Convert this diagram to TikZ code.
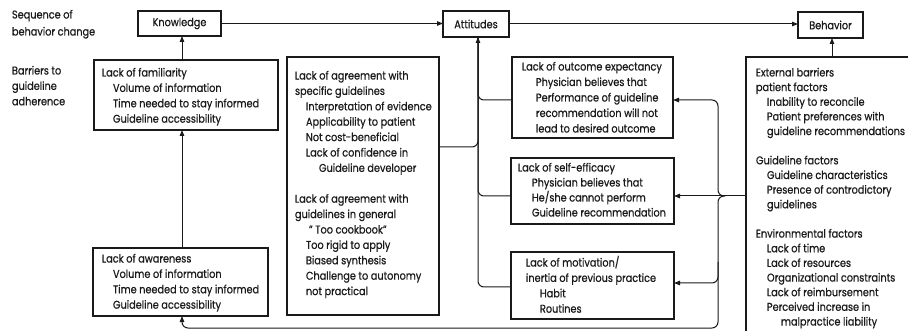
\documentclass[tikz,border=0pt]{standalone}
\usepackage{fontspec}
\setmainfont{Poppins}[FakeStretch=0.86,FakeBold=0.6]
\usetikzlibrary{arrows.meta}
\definecolor{ink}{HTML}{1A1A1A}

\newcommand{\ind}{\hspace*{11pt}}

% multi-line texts are placed by the baseline of their last line
\begin{document}
\begin{tikzpicture}[x=1pt,y=-1pt,
  every node/.style={inner sep=0pt, outer sep=0pt},
  frame/.style={draw=ink, line width=1.1pt, anchor=north west},
  stage/.style={frame, font=\fontsize{11.3}{13}\selectfont, text=ink},
  txt/.style={anchor=base west, align=left, text=ink,
              font=\fontsize{11.3}{15.4}\selectfont},
  link/.style={draw=ink, line width=1pt, rounded corners=6pt},
  arr/.style={link, -{Triangle[length=6pt,width=4.5pt]}},
]
\useasboundingbox (0,0) rectangle (908,331);
\clip (0,0) rectangle (908,331);
\fill[white] (0,0) rectangle (908,331);

% row labels
\node[txt, font=\fontsize{11.3}{17}\selectfont] (seq) at (12,35.5) {Sequence of\\behavior change};
\node[txt] (bar) at (12,105.3) {Barriers to\\guideline\\adherence};

% stages of behaviour change
\node[stage, minimum width=83pt, minimum height=25pt] (Knowledge) at (138,11) {Knowledge};
\node[stage, minimum width=66pt, minimum height=26pt] (Attitudes) at (443,11) {Attitudes};
\node[stage, minimum width=65pt, minimum height=26pt] (Behavior) at (798,12) {Behavior};

% barrier frames
\node[frame, minimum width=184pt, minimum height=70pt] (fam) at (94,60) {};
\node[frame, minimum width=175pt, minimum height=68pt] (aware) at (93,248) {};
\node[frame, minimum width=152pt, minimum height=258pt] (agree) at (287,57) {};
\node[frame, minimum width=161pt, minimum height=81pt] (outcome) at (512,57) {};
\node[frame, minimum width=163pt, minimum height=66pt] (selfeff) at (511,158) {};
\node[frame, minimum width=163pt, minimum height=67pt] (motiv) at (511,252) {};
\node[frame, minimum width=200pt, minimum height=300pt] (ext) at (746,57) {};

% barrier texts
\node[txt] (fam-t) at (102,122.7) {Lack of familiarity\\
  \ind Volume of information\\
  \ind Time needed to stay informed\\
  \ind Guideline accessibility};
\node[txt] (aware-t) at (102,308.7) {Lack of awareness\\
  \ind Volume of information\\
  \ind Time needed to stay informed\\
  \ind Guideline accessibility};
\node[txt] (agree-t) at (295,295.1) {Lack of agreement with\\
  specific guidelines\\
  \ind Interpretation of evidence\\
  \ind Applicability to patient\\
  \ind Not cost-beneficial\\
  \ind Lack of confidence in\\
  \ind\hspace*{13pt}Guideline developer\\[15.4pt]
  Lack of agreement with\\
  guidelines in general\\
  \ind\hspace*{3pt}" Too cookbook"\\
  \ind Too rigid to apply\\
  \ind Biased synthesis\\
  \ind Challenge to autonomy\\
  \ind not practical};
\node[txt, font=\fontsize{11.3}{15.5}\selectfont] (outcome-t) at (522,132.5) {Lack of outcome expectancy\\
  \hspace*{14pt}Physician believes that\\
  \hspace*{14pt}Performance of guideline\\
  \hspace*{14pt}recommendation will not\\
  \hspace*{14pt}lead to desired outcome};
\node[txt, font=\fontsize{11.3}{15}\selectfont] (selfeff-t) at (518,216.5) {Lack of self-efficacy\\
  \hspace*{14pt}Physician believes that\\
  \hspace*{14pt}He/she cannot perform\\
  \hspace*{14pt}Guideline recommendation};
\node[txt] (motiv-t) at (526,312.7) {Lack of motivation/\\
  inertia of previous practice\\
  \hspace*{14pt}Habit\\
  \hspace*{14pt}Routines};
\node[txt, font=\fontsize{11.3}{14.65}\selectfont] (ext-t) at (756,325.5) {External barriers\\
  patient factors\\
  \ind Inability to reconcile\\
  \ind Patient preferences with\\
  \ind guideline recommendations\\[14.65pt]
  Guideline factors\\
  \ind Guideline characteristics\\
  \ind Presence of controdictory\\
  \ind guidelines\\[14.65pt]
  Environmental factors\\
  \ind Lack of time\\
  \ind Lack of resources\\
  \ind Organizational constraints\\
  \ind Lack of reimbursement\\
  \ind Perceived increase in\\
  \ind\hspace*{14pt}malpractice liability};

% guide lines for the connectors
\coordinate (kx) at (182,0);
\coordinate (tx) at (478,0);
\coordinate (bx) at (718,0);
\coordinate (ex) at (832,0);
\coordinate (yo) at (0,100);
\coordinate (ya) at (0,147);
\coordinate (ys) at (0,196);
\coordinate (ym) at (0,287);
\coordinate (yr) at (0,283);
\coordinate (yrs) at (0,262);
\coordinate (yb) at (0,328);
\coordinate (tip) at (725,196);

% sequence of behaviour change
\draw[arr] (Knowledge.east) -- (Knowledge.east -| Attitudes.west);
\draw[arr] (Attitudes.east) -- (Attitudes.east -| Behavior.west);

% knowledge barriers
\draw[arr] (kx |- fam.north) -- (kx |- Knowledge.south);
\draw[arr] (kx |- aware.north) -- (kx |- fam.south);

% attitude barriers feeding the trunk
\draw[arr] (motiv.west |- ym) -- (tx |- ym) -- (tx |- Attitudes.south);
\draw[link] (outcome.west |- yo) -- (tx |- yo) -- (tx |- Attitudes.south);
\draw[link] (selfeff.west |- ys) -- (tx |- ys) -- (tx |- Attitudes.south);
\draw[link] (agree.east |- ya) -- (tx |- ya) -- (tx |- Attitudes.south);

% external barriers
\draw[arr] (ex |- ext.north) -- (ex |- Behavior.south);
\draw[arr] (ext.west |- ys) -- (selfeff.east |- ys);
\draw[arr] (tip) -- (bx |- ys) -- (bx |- yo) -- (outcome.east |- yo);
\draw[arr] (tip) -- (bx |- ys) -- (bx |- yb) -- (kx |- yb) -- (kx |- aware.south);
\draw[arr] (bx |- yrs) -- (bx |- yr) -- (motiv.east |- yr);
\end{tikzpicture}
\end{document}
